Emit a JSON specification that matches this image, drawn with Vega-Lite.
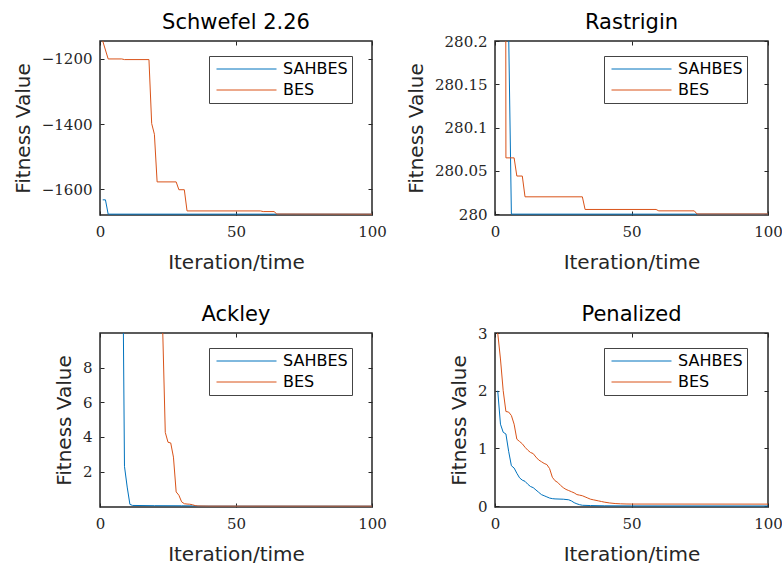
{
  "$schema": "https://vega.github.io/schema/vega-lite/v6.json",
  "background": "white",
  "padding": {"left": 12, "top": 10, "right": 0, "bottom": 0},
  "columns": 2,
  "bounds": "flush",
  "spacing": {"row": 118, "column": 123},
  "resolve": {"scale": {"color": "independent"}},
  "config": {
    "font": "DejaVu Sans",
    "view": {"stroke": "#262626", "strokeWidth": 1.5},
    "axis": {
      "domain": false, "grid": false, "tickColor": "#262626", "tickSize": -4, "tickWidth": 1,
      "labelFont": "DejaVu Serif", "labelFontSize": 15, "labelColor": "#262626",
      "labelFlush": false, "labelOverlap": false, "labelBound": false, "labelPadding": 12,
      "titleFont": "DejaVu Sans", "titleFontSize": 20, "titleFontWeight": "normal", "titleColor": "#262626",
      "format": ".2~f"
    },
    "axisBottom": {"titlePadding": 13, "labelPadding": 13},
    "axisLeft": {"titlePadding": 8},
    "legend": {
      "orient": "none", "legendX": 109, "legendY": 15, "title": " ", "titleOrient": "right", "titlePadding": 8, "titleFontSize": 1,
      "symbolType": "stroke", "symbolSize": 3600, "symbolStrokeWidth": 1,
      "clipHeight": 18, "rowPadding": 3, "padding": 4, "symbolOffset": 3, "labelOffset": 6,
      "labelFont": "DejaVu Sans", "labelFontSize": 16, "labelColor": "black",
      "strokeColor": "#444444", "fillColor": "white"
    },
    "title": {"font": "DejaVu Sans", "fontSize": 21, "fontWeight": "normal", "color": "black", "baseline": "alphabetic", "offset": 8, "frame": "group"}
  },
  "datasets": {
    "schwefel": [
      {"algo": "SAHBES", "iter": 1, "fitness": -1632},
      {"algo": "SAHBES", "iter": 2, "fitness": -1632},
      {"algo": "SAHBES", "iter": 3, "fitness": -1675.9},
      {"algo": "SAHBES", "iter": 100, "fitness": -1675.9},
      {"algo": "BES", "iter": 1, "fitness": -1145},
      {"algo": "BES", "iter": 3, "fitness": -1200},
      {"algo": "BES", "iter": 8, "fitness": -1200},
      {"algo": "BES", "iter": 9, "fitness": -1202},
      {"algo": "BES", "iter": 18, "fitness": -1202},
      {"algo": "BES", "iter": 19, "fitness": -1398},
      {"algo": "BES", "iter": 20, "fitness": -1431},
      {"algo": "BES", "iter": 21, "fitness": -1577},
      {"algo": "BES", "iter": 28, "fitness": -1577},
      {"algo": "BES", "iter": 29, "fitness": -1601},
      {"algo": "BES", "iter": 31, "fitness": -1601},
      {"algo": "BES", "iter": 32, "fitness": -1666},
      {"algo": "BES", "iter": 59, "fitness": -1666},
      {"algo": "BES", "iter": 60, "fitness": -1668},
      {"algo": "BES", "iter": 64, "fitness": -1668},
      {"algo": "BES", "iter": 65, "fitness": -1675.5},
      {"algo": "BES", "iter": 100, "fitness": -1675.9}
    ],
    "rastrigin": [
      {"algo": "SAHBES", "iter": 1, "fitness": 300},
      {"algo": "SAHBES", "iter": 2, "fitness": 296},
      {"algo": "SAHBES", "iter": 3, "fitness": 292},
      {"algo": "SAHBES", "iter": 4, "fitness": 286},
      {"algo": "SAHBES", "iter": 5, "fitness": 280.21},
      {"algo": "SAHBES", "iter": 6, "fitness": 280},
      {"algo": "SAHBES", "iter": 100, "fitness": 280},
      {"algo": "BES", "iter": 1, "fitness": 298},
      {"algo": "BES", "iter": 2, "fitness": 292},
      {"algo": "BES", "iter": 3, "fitness": 283},
      {"algo": "BES", "iter": 4, "fitness": 280.065},
      {"algo": "BES", "iter": 7, "fitness": 280.065},
      {"algo": "BES", "iter": 8, "fitness": 280.044},
      {"algo": "BES", "iter": 10, "fitness": 280.044},
      {"algo": "BES", "iter": 11, "fitness": 280.02},
      {"algo": "BES", "iter": 32, "fitness": 280.02},
      {"algo": "BES", "iter": 33, "fitness": 280.0054},
      {"algo": "BES", "iter": 59, "fitness": 280.0054},
      {"algo": "BES", "iter": 60, "fitness": 280.0038},
      {"algo": "BES", "iter": 73, "fitness": 280.0038},
      {"algo": "BES", "iter": 74, "fitness": 280.0002},
      {"algo": "BES", "iter": 100, "fitness": 280.0002}
    ],
    "ackley": [
      {"algo": "SAHBES", "iter": 1, "fitness": 21.6},
      {"algo": "SAHBES", "iter": 8, "fitness": 21.5},
      {"algo": "SAHBES", "iter": 9, "fitness": 2.3},
      {"algo": "SAHBES", "iter": 10, "fitness": 1.1},
      {"algo": "SAHBES", "iter": 11, "fitness": 0.1},
      {"algo": "SAHBES", "iter": 12, "fitness": 0.04},
      {"algo": "SAHBES", "iter": 20, "fitness": 0.025},
      {"algo": "SAHBES", "iter": 30, "fitness": 0.02},
      {"algo": "SAHBES", "iter": 34, "fitness": 0.015},
      {"algo": "SAHBES", "iter": 36, "fitness": 0.002},
      {"algo": "SAHBES", "iter": 100, "fitness": 0.000001},
      {"algo": "BES", "iter": 1, "fitness": 21.7},
      {"algo": "BES", "iter": 22, "fitness": 21.3},
      {"algo": "BES", "iter": 23, "fitness": 10.5},
      {"algo": "BES", "iter": 24, "fitness": 4.26},
      {"algo": "BES", "iter": 25, "fitness": 3.69},
      {"algo": "BES", "iter": 26, "fitness": 3.65},
      {"algo": "BES", "iter": 27, "fitness": 2.83},
      {"algo": "BES", "iter": 28, "fitness": 0.82},
      {"algo": "BES", "iter": 29, "fitness": 0.63},
      {"algo": "BES", "iter": 30, "fitness": 0.25},
      {"algo": "BES", "iter": 31, "fitness": 0.14},
      {"algo": "BES", "iter": 32, "fitness": 0.12},
      {"algo": "BES", "iter": 33, "fitness": 0.11},
      {"algo": "BES", "iter": 34, "fitness": 0.08},
      {"algo": "BES", "iter": 35, "fitness": 0.03},
      {"algo": "BES", "iter": 36, "fitness": 0.01},
      {"algo": "BES", "iter": 40, "fitness": 0.002},
      {"algo": "BES", "iter": 100, "fitness": 0.000001}
    ],
    "penalized": [
      {"algo": "SAHBES", "iter": 1, "fitness": 2.0},
      {"algo": "SAHBES", "iter": 2, "fitness": 1.42},
      {"algo": "SAHBES", "iter": 3, "fitness": 1.28},
      {"algo": "SAHBES", "iter": 4, "fitness": 1.25},
      {"algo": "SAHBES", "iter": 5, "fitness": 0.95},
      {"algo": "SAHBES", "iter": 6, "fitness": 0.7},
      {"algo": "SAHBES", "iter": 7, "fitness": 0.66},
      {"algo": "SAHBES", "iter": 8, "fitness": 0.57},
      {"algo": "SAHBES", "iter": 9, "fitness": 0.49},
      {"algo": "SAHBES", "iter": 10, "fitness": 0.45},
      {"algo": "SAHBES", "iter": 11, "fitness": 0.43},
      {"algo": "SAHBES", "iter": 12, "fitness": 0.38},
      {"algo": "SAHBES", "iter": 13, "fitness": 0.34},
      {"algo": "SAHBES", "iter": 14, "fitness": 0.32},
      {"algo": "SAHBES", "iter": 15, "fitness": 0.28},
      {"algo": "SAHBES", "iter": 16, "fitness": 0.24},
      {"algo": "SAHBES", "iter": 17, "fitness": 0.2},
      {"algo": "SAHBES", "iter": 18, "fitness": 0.18},
      {"algo": "SAHBES", "iter": 19, "fitness": 0.16},
      {"algo": "SAHBES", "iter": 20, "fitness": 0.14},
      {"algo": "SAHBES", "iter": 21, "fitness": 0.13},
      {"algo": "SAHBES", "iter": 22, "fitness": 0.125},
      {"algo": "SAHBES", "iter": 25, "fitness": 0.12},
      {"algo": "SAHBES", "iter": 27, "fitness": 0.11},
      {"algo": "SAHBES", "iter": 28, "fitness": 0.09},
      {"algo": "SAHBES", "iter": 29, "fitness": 0.06},
      {"algo": "SAHBES", "iter": 30, "fitness": 0.04},
      {"algo": "SAHBES", "iter": 31, "fitness": 0.025},
      {"algo": "SAHBES", "iter": 32, "fitness": 0.015},
      {"algo": "SAHBES", "iter": 35, "fitness": 0.01},
      {"algo": "SAHBES", "iter": 40, "fitness": 0.006},
      {"algo": "SAHBES", "iter": 50, "fitness": 0.004},
      {"algo": "SAHBES", "iter": 100, "fitness": 0.003},
      {"algo": "BES", "iter": 1, "fitness": 3.0},
      {"algo": "BES", "iter": 2, "fitness": 2.55},
      {"algo": "BES", "iter": 3, "fitness": 2.0},
      {"algo": "BES", "iter": 4, "fitness": 1.64},
      {"algo": "BES", "iter": 5, "fitness": 1.63},
      {"algo": "BES", "iter": 6, "fitness": 1.57},
      {"algo": "BES", "iter": 7, "fitness": 1.42},
      {"algo": "BES", "iter": 8, "fitness": 1.16},
      {"algo": "BES", "iter": 9, "fitness": 1.12},
      {"algo": "BES", "iter": 10, "fitness": 1.08},
      {"algo": "BES", "iter": 11, "fitness": 1.02},
      {"algo": "BES", "iter": 12, "fitness": 0.97},
      {"algo": "BES", "iter": 13, "fitness": 0.93},
      {"algo": "BES", "iter": 14, "fitness": 0.91},
      {"algo": "BES", "iter": 15, "fitness": 0.85},
      {"algo": "BES", "iter": 16, "fitness": 0.8},
      {"algo": "BES", "iter": 17, "fitness": 0.77},
      {"algo": "BES", "iter": 18, "fitness": 0.74},
      {"algo": "BES", "iter": 19, "fitness": 0.72},
      {"algo": "BES", "iter": 20, "fitness": 0.65},
      {"algo": "BES", "iter": 21, "fitness": 0.5},
      {"algo": "BES", "iter": 22, "fitness": 0.44},
      {"algo": "BES", "iter": 23, "fitness": 0.41},
      {"algo": "BES", "iter": 24, "fitness": 0.36},
      {"algo": "BES", "iter": 25, "fitness": 0.32},
      {"algo": "BES", "iter": 26, "fitness": 0.29},
      {"algo": "BES", "iter": 27, "fitness": 0.27},
      {"algo": "BES", "iter": 28, "fitness": 0.25},
      {"algo": "BES", "iter": 29, "fitness": 0.23},
      {"algo": "BES", "iter": 30, "fitness": 0.2},
      {"algo": "BES", "iter": 31, "fitness": 0.19},
      {"algo": "BES", "iter": 32, "fitness": 0.18},
      {"algo": "BES", "iter": 33, "fitness": 0.16},
      {"algo": "BES", "iter": 34, "fitness": 0.14},
      {"algo": "BES", "iter": 35, "fitness": 0.12},
      {"algo": "BES", "iter": 36, "fitness": 0.11},
      {"algo": "BES", "iter": 37, "fitness": 0.1},
      {"algo": "BES", "iter": 38, "fitness": 0.09},
      {"algo": "BES", "iter": 39, "fitness": 0.08},
      {"algo": "BES", "iter": 40, "fitness": 0.07},
      {"algo": "BES", "iter": 42, "fitness": 0.055},
      {"algo": "BES", "iter": 44, "fitness": 0.045},
      {"algo": "BES", "iter": 46, "fitness": 0.04},
      {"algo": "BES", "iter": 48, "fitness": 0.037},
      {"algo": "BES", "iter": 50, "fitness": 0.036},
      {"algo": "BES", "iter": 100, "fitness": 0.035}
    ]
  },
  "concat": [
    {
      "title": {"text": "Schwefel 2.26", "offset": 8},
      "width": 272, "height": 174,
      "data": {"name": "schwefel"},
      "resolve": {"axis": {"x": "independent", "y": "independent"}},
      "layer": [
        {
          "mark": {"type": "line", "strokeWidth": 1, "clip": true},
          "encoding": {
            "x": {"field": "iter", "type": "quantitative", "scale": {"domain": [0, 100], "nice": false}, "axis": {"values": [0, 50, 100], "title": "Iteration/time"}},
            "y": {"field": "fitness", "type": "quantitative", "scale": {"domain": [-1678.5, -1145], "nice": false, "zero": false}, "axis": {"values": [-1600, -1400, -1200], "title": "Fitness Value"}},
            "color": {"field": "algo", "type": "nominal", "sort": ["SAHBES", "BES"], "scale": {"domain": ["SAHBES", "BES"], "range": ["#0072BD", "#D95319"]}}
          }
        },
        {
          "mark": {"type": "line", "opacity": 0, "clip": true},
          "encoding": {
            "x": {"field": "iter", "type": "quantitative", "axis": {"orient": "top", "values": [0, 50, 100], "labels": false, "title": null}},
            "y": {"field": "fitness", "type": "quantitative", "axis": {"orient": "right", "values": [-1600, -1400, -1200], "labels": false, "title": null}},
            "detail": {"field": "algo"}
          }
        }
      ]
    },
    {
      "title": {"text": "Rastrigin", "offset": 1},
      "width": 273, "height": 174,
      "data": {"name": "rastrigin"},
      "resolve": {"axis": {"x": "independent", "y": "independent"}},
      "layer": [
        {
          "mark": {"type": "line", "strokeWidth": 1, "clip": true},
          "encoding": {
            "x": {"field": "iter", "type": "quantitative", "scale": {"domain": [0, 100], "nice": false}, "axis": {"values": [0, 50, 100], "title": "Iteration/time"}},
            "y": {"field": "fitness", "type": "quantitative", "scale": {"domain": [279.999, 280.2], "nice": false, "zero": false}, "axis": {"values": [280, 280.05, 280.1, 280.15, 280.2], "title": "Fitness Value"}},
            "color": {"field": "algo", "type": "nominal", "sort": ["SAHBES", "BES"], "scale": {"domain": ["SAHBES", "BES"], "range": ["#0072BD", "#D95319"]}}
          }
        },
        {
          "mark": {"type": "line", "opacity": 0, "clip": true},
          "encoding": {
            "x": {"field": "iter", "type": "quantitative", "axis": {"orient": "top", "values": [0, 50, 100], "labels": false, "title": null}},
            "y": {"field": "fitness", "type": "quantitative", "axis": {"orient": "right", "values": [280, 280.05, 280.1, 280.15, 280.2], "labels": false, "title": null}},
            "detail": {"field": "algo"}
          }
        }
      ]
    },
    {
      "title": {"text": "Ackley", "offset": 8},
      "width": 272, "height": 174,
      "data": {"name": "ackley"},
      "resolve": {"axis": {"x": "independent", "y": "independent"}},
      "layer": [
        {
          "mark": {"type": "line", "strokeWidth": 1, "clip": true},
          "encoding": {
            "x": {"field": "iter", "type": "quantitative", "scale": {"domain": [0, 100], "nice": false}, "axis": {"values": [0, 50, 100], "title": "Iteration/time"}},
            "y": {"field": "fitness", "type": "quantitative", "scale": {"domain": [-0.05, 10], "nice": false, "zero": false}, "axis": {"values": [2, 4, 6, 8], "title": "Fitness Value"}},
            "color": {"field": "algo", "type": "nominal", "sort": ["SAHBES", "BES"], "scale": {"domain": ["SAHBES", "BES"], "range": ["#0072BD", "#D95319"]}}
          }
        },
        {
          "mark": {"type": "line", "opacity": 0, "clip": true},
          "encoding": {
            "x": {"field": "iter", "type": "quantitative", "axis": {"orient": "top", "values": [0, 50, 100], "labels": false, "title": null}},
            "y": {"field": "fitness", "type": "quantitative", "axis": {"orient": "right", "values": [2, 4, 6, 8], "labels": false, "title": null}},
            "detail": {"field": "algo"}
          }
        }
      ]
    },
    {
      "title": {"text": "Penalized", "offset": 1},
      "width": 273, "height": 174,
      "data": {"name": "penalized"},
      "resolve": {"axis": {"x": "independent", "y": "independent"}},
      "layer": [
        {
          "mark": {"type": "line", "strokeWidth": 1, "clip": true},
          "encoding": {
            "x": {"field": "iter", "type": "quantitative", "scale": {"domain": [0, 100], "nice": false}, "axis": {"values": [0, 50, 100], "title": "Iteration/time"}},
            "y": {"field": "fitness", "type": "quantitative", "scale": {"domain": [-0.015, 3], "nice": false, "zero": false}, "axis": {"values": [0, 1, 2, 3], "title": "Fitness Value"}},
            "color": {"field": "algo", "type": "nominal", "sort": ["SAHBES", "BES"], "scale": {"domain": ["SAHBES", "BES"], "range": ["#0072BD", "#D95319"]}}
          }
        },
        {
          "mark": {"type": "line", "opacity": 0, "clip": true},
          "encoding": {
            "x": {"field": "iter", "type": "quantitative", "axis": {"orient": "top", "values": [0, 50, 100], "labels": false, "title": null}},
            "y": {"field": "fitness", "type": "quantitative", "axis": {"orient": "right", "values": [0, 1, 2, 3], "labels": false, "title": null}},
            "detail": {"field": "algo"}
          }
        }
      ]
    }
  ]
}
